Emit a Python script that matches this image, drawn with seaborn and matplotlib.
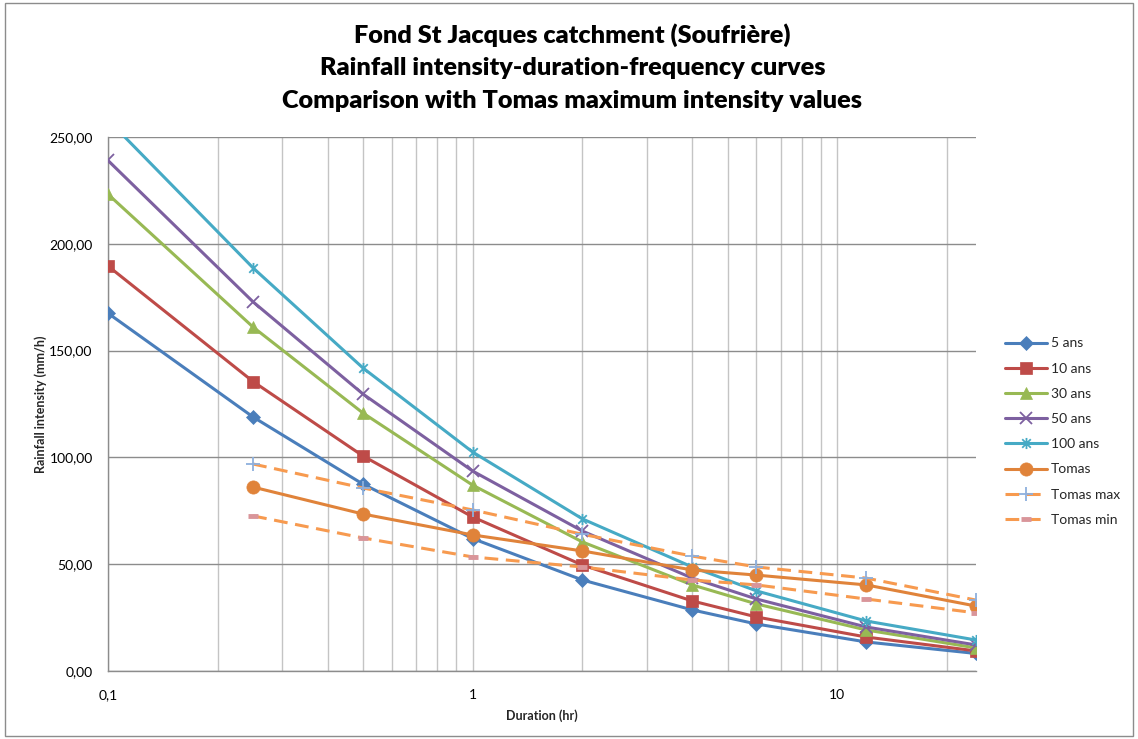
import numpy as np
import pandas as pd
import matplotlib
matplotlib.use("Agg")
import matplotlib.pyplot as plt
from matplotlib.path import Path
from matplotlib.patches import Rectangle
from matplotlib.ticker import FuncFormatter, FixedLocator, LogLocator, NullFormatter
import seaborn as sns

# Durations (hours) and intensities (mm/h)
durations = [0.1, 0.25, 0.5, 1, 2, 4, 6, 12, 24]
i_5 = [167.5, 118.9, 87.5, 62.0, 42.6, 28.6, 22.0, 13.6, 8.2]
i_10 = [189.6, 135.5, 100.7, 72.1, 49.6, 32.8, 25.3, 15.9, 9.4]
i_30 = [223.2, 161.0, 120.8, 87.0, 60.4, 40.3, 31.4, 19.2, 10.8]
i_50 = [239.0, 172.8, 129.7, 93.6, 65.5, 43.5, 33.7, 20.6, 12.2]
i_100 = [258.0, 188.7, 141.9, 102.5, 71.2, 48.7, 37.5, 23.4, 14.5]

tomas_durations = [0.25, 0.5, 1, 2, 4, 6, 12, 24]
tomas = [86.1, 73.5, 63.7, 56.2, 47.3, 44.9, 40.3, 30.4]
tomas_max = [96.9, 85.7, 75.4, 64.0, 53.8, 48.7, 43.5, 33.2]
tomas_min = [72.6, 62.3, 53.4, 48.7, 42.6, 40.3, 33.7, 27.2]

title_lines = [
    "Fond St Jacques catchment (Soufrière)",
    "Rainfall intensity-duration-frequency curves",
    "Comparison with Tomas maximum intensity values",
]

sns.set_theme(style="white")
plt.rcParams["font.family"] = ["Lato", "DejaVu Sans"]

fig = plt.figure(figsize=(11.38, 7.39), dpi=100)
ax = fig.add_axes([108 / 1138, 68 / 739, 868 / 1138, 534 / 739])

# Excel-style "star" marker: an X crossed by a vertical bar
star = Path(
    [(-1, -1), (1, 1), (-1, 1), (1, -1), (0, -1.3), (0, 1.3)],
    [Path.MOVETO, Path.LINETO, Path.MOVETO, Path.LINETO, Path.MOVETO, Path.LINETO],
)

series = [
    ("5 ans", durations, i_5, "#4A7EBB", "D", 7, "-", None),
    ("10 ans", durations, i_10, "#BE4B48", "s", 8.5, "-", None),
    ("30 ans", durations, i_30, "#98B954", "^", 9, "-", None),
    ("50 ans", durations, i_50, "#7D60A0", "x", 9, "-", None),
    ("100 ans", durations, i_100, "#46AAC5", star, 8, "-", None),
    ("Tomas", tomas_durations, tomas, "#E0833A", "o", 9.5, "-", None),
    ("Tomas max", tomas_durations, tomas_max, "#F79A4F", "+", 10, (0, (4.5, 2.5)), "#8EB0DD"),
    ("Tomas min", tomas_durations, tomas_min, "#F79A4F", "_", 7, (0, (4.5, 2.5)), "#D9959A"),
]

for name, xs, ys, col, mk, ms, ls, mcol in series:
    mc = mcol if mcol else col
    line_markers = mk in ("x", "+", "_") or isinstance(mk, Path)
    df = pd.DataFrame({"Duration": xs, "Intensity": ys})
    sns.lineplot(
        data=df, x="Duration", y="Intensity", ax=ax, label=name,
        color=col, linewidth=2.2, linestyle=ls,
        marker=mk, markersize=ms,
        markerfacecolor=mc if not line_markers else "none",
        markeredgecolor=mc,
        markeredgewidth=1.3 if line_markers else 0.5,
        zorder=3,
    )
    if mk == "_":
        ax.lines[-1].set_markeredgewidth(3.5)

ax.set_xscale("log")
ax.set_xlim(0.1, 24)
ax.set_ylim(0, 250)

ax.yaxis.set_major_locator(FixedLocator([0, 50, 100, 150, 200, 250]))
ax.yaxis.set_major_formatter(FuncFormatter(lambda v, p: f"{v:.2f}".replace(".", ",")))
ax.xaxis.set_major_locator(FixedLocator([0.1, 1, 10]))
ax.xaxis.set_major_formatter(FuncFormatter(lambda v, p: f"{v:g}".replace(".", ",")))
ax.xaxis.set_minor_locator(LogLocator(base=10, subs=np.arange(2, 10)))
ax.xaxis.set_minor_formatter(NullFormatter())

ax.grid(True, axis="y", which="major", color="#8C8C8C", linewidth=1.0, zorder=0)
ax.grid(True, axis="x", which="both", color="#C4C4C4", linewidth=1.0, zorder=0)
ax.set_axisbelow(True)

for s in ("top", "right"):
    ax.spines[s].set_visible(False)
for s in ("left", "bottom"):
    ax.spines[s].set_color("#8C8C8C")
    ax.spines[s].set_linewidth(1.0)

ax.tick_params(axis="both", which="major", direction="out", length=5, width=1,
               color="#8C8C8C", labelsize=10, labelcolor="#000000", pad=6)
ax.tick_params(axis="x", which="minor", length=0)
ax.tick_params(axis="x", which="major", pad=8)

ax.set_xlabel("Duration (hr)", fontsize=9, fontweight="bold", labelpad=6)
ax.set_ylabel("Rainfall intensity (mm/h)", fontsize=9, fontweight="bold", labelpad=2)

# Three-line chart title
for k, line in enumerate(title_lines):
    fig.text(0.503, 1 - (35 + 33 * k) / 739, line, ha="center", va="center",
             fontsize=18.2, fontweight="heavy", color="#000000")

handles, labels = ax.get_legend_handles_labels()
ax.get_legend().remove()
fig.legend(
    handles, labels, loc="center left", bbox_to_anchor=(1005 / 1138, 0.416),
    frameon=False, fontsize=10, handlelength=3.0, handletextpad=0.3,
    labelspacing=0.95, borderpad=0, borderaxespad=0,
)

# Chart-area border
fig.patches.append(Rectangle((0.004, 0.004), 0.992, 0.992, transform=fig.transFigure,
                             fill=False, edgecolor="#8C8C8C", linewidth=1.0))

fig.savefig("out.png", dpi=100)
